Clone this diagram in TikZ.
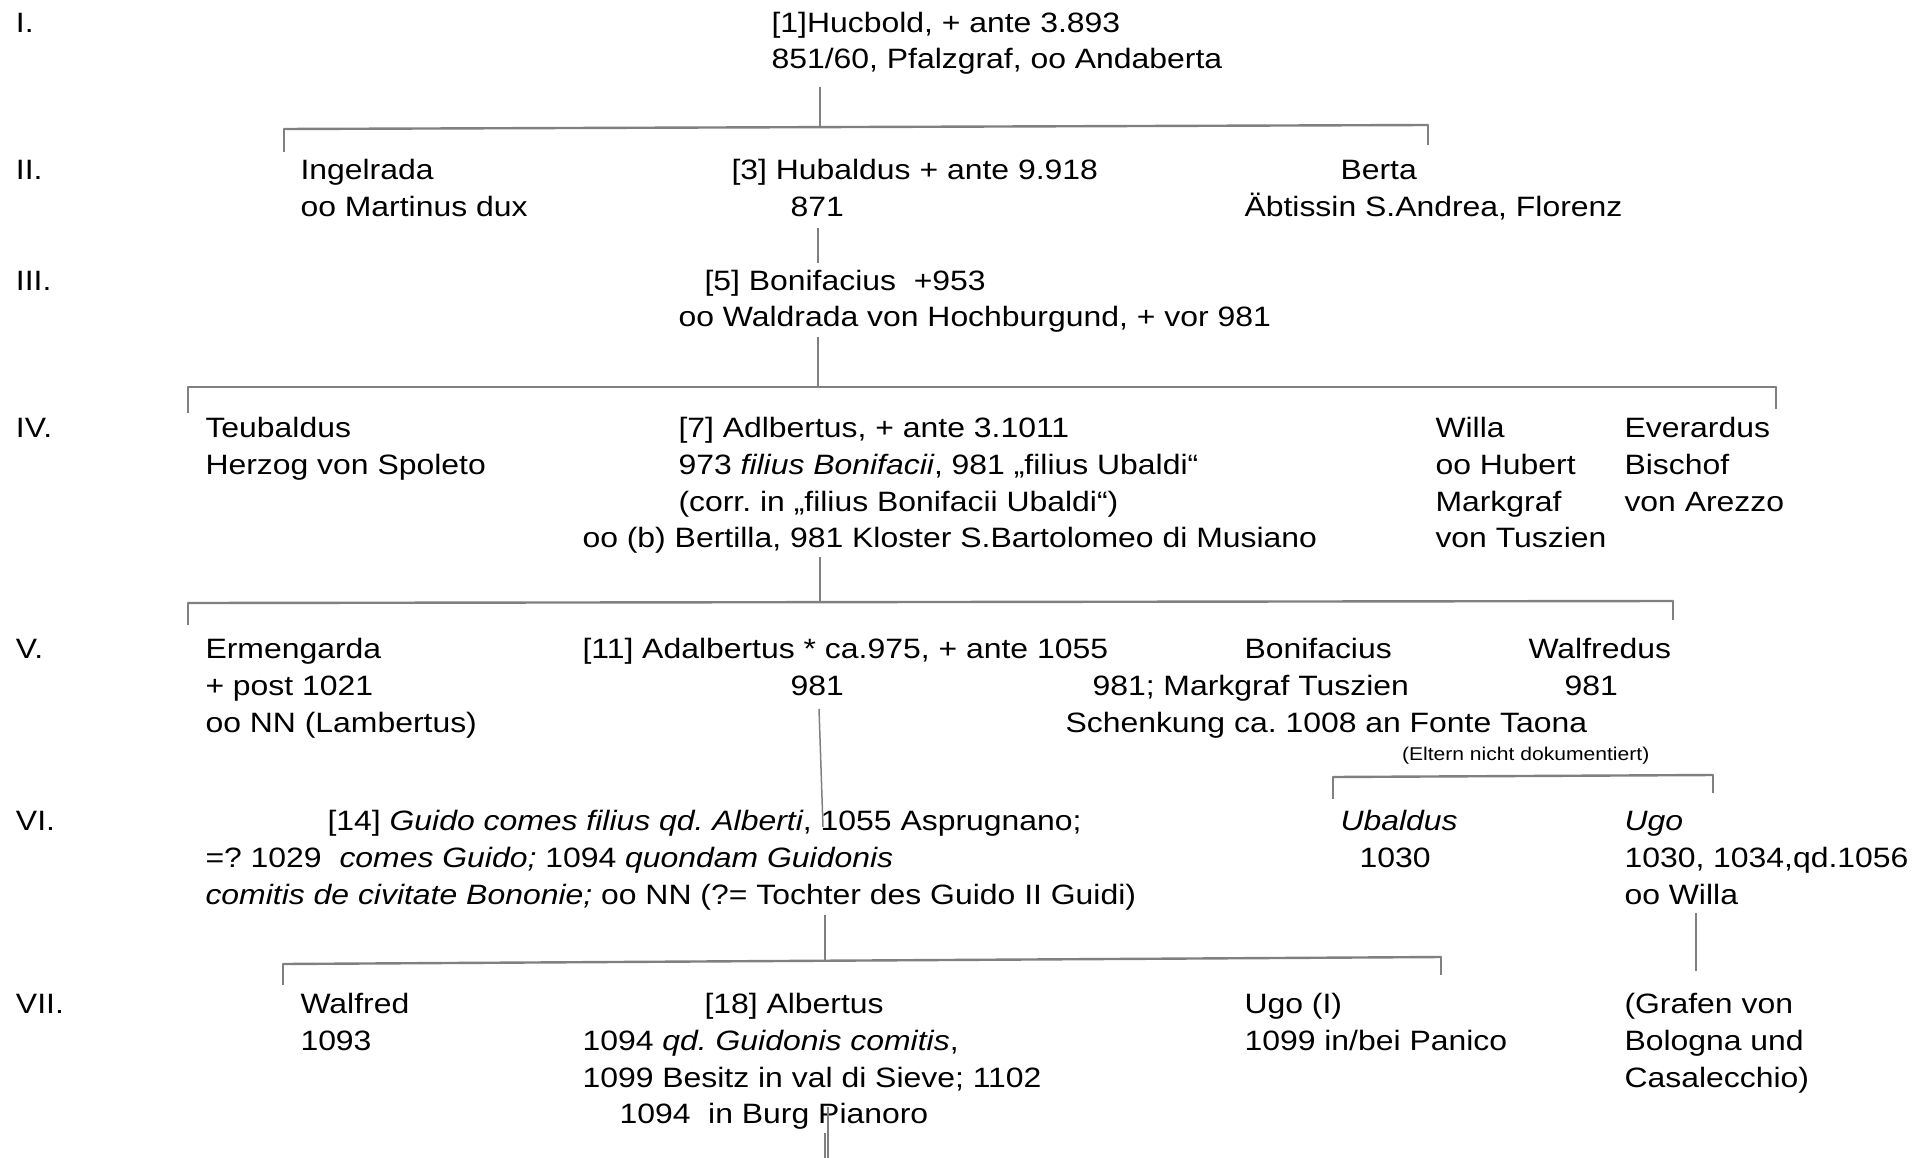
\documentclass[tikz,border=0pt]{standalone}
\usepackage{fontspec}
\setmainfont{Liberation Sans}[FakeStretch=1.14]
\frenchspacing
\definecolor{linec}{RGB}{128,128,128}
\newcommand\fsn{\fontsize{28}{36.8}\selectfont\frenchspacing}
\newcommand\fss{\fontsize{18.5}{22}\selectfont\frenchspacing}
\newcommand\ml[1]{\begin{tabular}[t]{@{}l@{}}#1\end{tabular}}
\begin{document}
\begin{tikzpicture}[x=1pt,y=-1pt,
  txt/.style={anchor=base west,inner sep=0pt,outer sep=0pt,font=\fsn,xshift=2.5pt},
  small/.style={anchor=base west,inner sep=0pt,outer sep=0pt,font=\fss,xshift=2pt},
  link/.style={draw=linec,line width=1.5pt},
  bar/.style={draw=linec,line width=2.4pt,line cap=round}]
\useasboundingbox[fill=white] (0,0) rectangle (1926,1158);

% generation labels
\node[txt] (g1) at (13.5,32.1) {I.};
\node[txt] (g2) at (13.5,179.5) {II.};
\node[txt] (g3) at (13.5,290) {III.};
\node[txt] (g4) at (13.5,437.4) {IV.};
\node[txt] (g5) at (13.5,658.5) {V.};
\node[txt] (g6) at (13.5,830.5) {VI.};
\node[txt] (g7) at (13.5,1013.5) {VII.};

% I
\node[txt] (hucbold) at (769,32.1) {\ml{[1]Hucbold, + ante 3.893\\851/60, Pfalzgraf, oo Andaberta}};
% II
\node[txt] (ingelrada) at (298,179.5) {\ml{Ingelrada\\oo Martinus dux}};
\node[txt] (hubaldus) at (729,179.5) {[3] Hubaldus + ante 9.918};
\node[txt] (hubaldusb) at (788,216.3) {871};
\node[txt] (berta) at (1338,179.5) {Berta};
\node[txt] (bertab) at (1242,216.3) {Äbtissin S.Andrea, Florenz};
% III
\node[txt] (bonifacius) at (702,290) {[5] Bonifacius\ \ +953};
\node[txt] (bonifaciusb) at (676,326.8) {oo Waldrada von Hochburgund, + vor 981};
% IV
\node[txt] (teubaldus) at (203,437.4) {\ml{Teubaldus\\Herzog von Spoleto}};
\node[txt] (adlbertus) at (676,437.4) {\ml{[7] Adlbertus, + ante 3.1011\\973 \textit{filius Bonifacii}, 981 „filius Ubaldi“\\(corr. in „filius Bonifacii Ubaldi“)}};
\node[txt] (adlbertusb) at (580,547.8) {oo (b) Bertilla, 981 Kloster S.Bartolomeo di Musiano};
\node[txt] (willa) at (1433,437.4) {\ml{Willa\\oo Hubert\\Markgraf\\von Tuszien}};
\node[txt] (everardus) at (1622,437.4) {\ml{Everardus\\Bischof\\von Arezzo}};
% V
\node[txt] (ermengarda) at (203,658.5) {\ml{Ermengarda\\+ post 1021\\oo NN (Lambertus)}};
\node[txt] (adalbertus) at (580,658.5) {[11] Adalbertus * ca.975, + ante 1055};
\node[txt] (adalbertusb) at (788,695.3) {981};
\node[txt] (bonif) at (1242,658.5) {Bonifacius};
\node[txt] (bonifb) at (1090,695.3) {981; Markgraf Tuszien};
\node[txt] (bonifc) at (1063,732.1) {Schenkung ca. 1008 an Fonte Taona};
\node[txt] (walfredus) at (1526,658.5) {Walfredus};
\node[txt] (walfredusb) at (1562,695.3) {981};
\node[small] (eltern) at (1400,760) {(Eltern nicht dokumentiert)};
% VI
\node[txt] (guido) at (325,830.5) {[14] \textit{Guido comes filius qd. Alberti}, 1055 Asprugnano;};
\node[txt] (guidob) at (203,867.3) {\ml{=? 1029\ \ \textit{comes Guido;} 1094 \textit{quondam Guidonis}\\\textit{comitis de civitate Bononie;} oo NN (?= Tochter des Guido II Guidi)}};
\node[txt] (ubaldus) at (1338,830.5) {\textit{Ubaldus}};
\node[txt] (ubaldusb) at (1357,867.3) {1030};
\node[txt] (ugo) at (1622,830.5) {\ml{\textit{Ugo}\\1030, 1034,qd.1056\\oo Willa}};
% VII
\node[txt] (walfred) at (298,1013.5) {\ml{Walfred\\1093}};
\node[txt] (albertus) at (702,1013.5) {[18] Albertus};
\node[txt] (albertusb) at (580,1050.3) {\ml{1094 \textit{qd. Guidonis comitis},\\1099 Besitz in val di Sieve; 1102}};
\node[txt] (albertusc) at (617,1123.9) {1094\ \ in Burg Pianoro};
\node[txt] (ugoI) at (1242,1013.5) {\ml{Ugo (I)\\1099 in/bei Panico}};
\node[txt] (grafen) at (1622,1013.5) {\ml{(Grafen von\\Bologna und\\Casalecchio)}};

% connector coordinates
\coordinate (c1t) at (820,87);   \coordinate (c1m) at (820,127.1);
\coordinate (c1l) at (284,129);  \coordinate (c1r) at (1428,125);
\coordinate (c1ld) at (284,152); \coordinate (c1rd) at (1428,145);
\coordinate (c2t) at (818,228);  \coordinate (c2b) at (818,263);
\coordinate (c3t) at (818,337);  \coordinate (c3m) at (818,387);
\coordinate (c3l) at (188,387);  \coordinate (c3r) at (1776,387);
\coordinate (c3ld) at (188,413); \coordinate (c3rd) at (1776,409);
\coordinate (c4t) at (820,557);  \coordinate (c4m) at (820,602);
\coordinate (c4l) at (188,603);  \coordinate (c4r) at (1673,601);
\coordinate (c4ld) at (188,625); \coordinate (c4rd) at (1673,620);
\coordinate (c5t) at (819,709);  \coordinate (c5b) at (823,827);
\coordinate (c6l) at (1333,777); \coordinate (c6r) at (1713,775);
\coordinate (c6ld) at (1333,799);\coordinate (c6rd) at (1713,793);
\coordinate (c7t) at (825,915);  \coordinate (c7m) at (825,960);
\coordinate (c7l) at (283,964);  \coordinate (c7r) at (1441,957);
\coordinate (c7ld) at (283,985); \coordinate (c7rd) at (1441,975);
\coordinate (c8t) at (1696,913); \coordinate (c8b) at (1696,971);
\coordinate (c9t) at (828,1107); \coordinate (c9b) at (828,1158);
\coordinate (c9u) at (825,1133); \coordinate (c9v) at (825,1158);

% connectors
\draw[link] (c1t) -- (c1m);
\draw[bar] (c1l) -- (c1r);
\draw[link] (c1l) -- (c1ld);
\draw[link] (c1r) -- (c1rd);
\draw[link] (c2t) -- (c2b);
\draw[link] (c3t) -- (c3m);
\draw[bar] (c3l) -- (c3r);
\draw[link] (c3l) -- (c3ld);
\draw[link] (c3r) -- (c3rd);
\draw[link] (c4t) -- (c4m);
\draw[bar] (c4l) -- (c4r);
\draw[link] (c4l) -- (c4ld);
\draw[link] (c4r) -- (c4rd);
\draw[link] (c5t) -- (c5b);
\draw[bar] (c6l) -- (c6r);
\draw[link] (c6l) -- (c6ld);
\draw[link] (c6r) -- (c6rd);
\draw[link] (c7t) -- (c7m);
\draw[bar] (c7l) -- (c7r);
\draw[link] (c7l) -- (c7ld);
\draw[link] (c7r) -- (c7rd);
\draw[link] (c8t) -- (c8b);
\draw[link] (c9t) -- (c9b);
\draw[link] (c9u) -- (c9v);
\end{tikzpicture}
\end{document}
